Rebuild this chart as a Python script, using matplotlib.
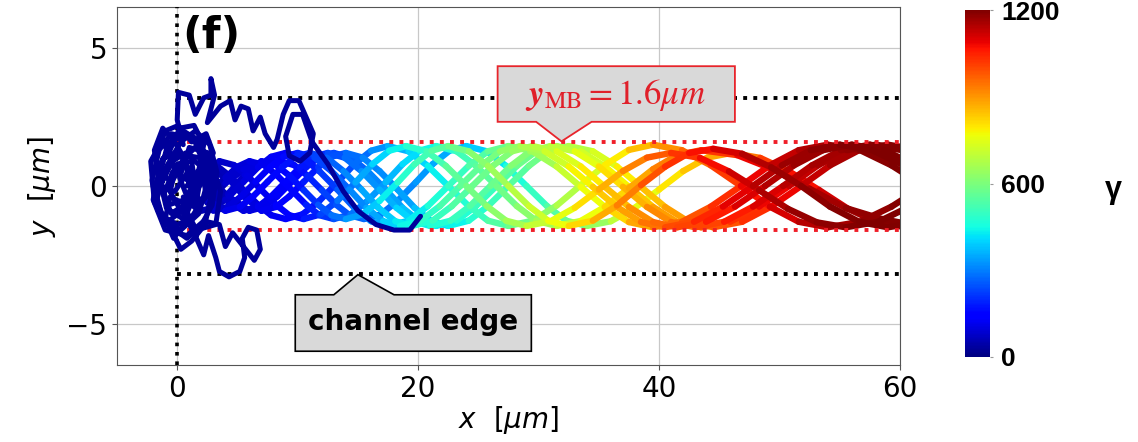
import numpy as np
import matplotlib
matplotlib.use("Agg")
import matplotlib.pyplot as plt
from matplotlib.collections import LineCollection
from matplotlib.patches import Polygon
from matplotlib.colors import Normalize
from matplotlib.cm import ScalarMappable

# electron trajectories: x [um], y [um] and gamma along each path
traj_x = [
    [2.0, 3.2, 4.3, 5.5, 6.7, 7.8, 9.0, 10.4, 11.8, 13.3, 14.7, 16.1, 17.5, 19.2, 20.8, 22.5, 24.2, 25.8, 27.5, 29.5, 31.5, 33.5, 35.5, 37.5, 39.5, 41.9, 44.3, 46.8, 49.2, 51.6, 54.0, 56.7, 59.3, 62.0, 64.7],
    [2.5, 4.0, 5.2, 6.3, 7.5, 8.7, 9.8, 11.0, 12.4, 13.8, 15.3, 16.7, 18.1, 19.5, 21.2, 22.8, 24.5, 26.2, 27.8, 29.5, 31.5, 33.5, 35.5, 37.5, 39.5, 41.5, 43.9, 46.3, 48.8, 51.2, 53.6, 56.0, 58.7, 61.3, 64.0],
    [2.5, 4.0, 5.5, 6.7, 7.8, 9.0, 10.2, 11.3, 12.5, 13.9, 15.3, 16.8, 18.2, 19.6, 21.0, 22.7, 24.3, 26.0, 27.7, 29.3, 31.0, 33.0, 35.0, 37.0, 39.0, 41.0, 43.0, 45.4, 47.8, 50.3, 52.7, 55.1, 57.5, 60.2, 62.8],
    [2.5, 4.2, 5.6, 7.0, 8.2, 9.3, 10.5, 11.7, 12.8, 14.0, 15.4, 16.8, 18.3, 19.7, 21.1, 22.5, 24.2, 25.8, 27.5, 29.2, 30.8, 32.5, 34.5, 36.5, 38.5, 40.5, 42.5, 44.5, 46.9, 49.3, 51.8, 54.2, 56.6, 59.0, 61.7],
    [3.0, 4.2, 5.3, 6.5, 7.7, 8.8, 10.0, 11.4, 12.8, 14.3, 15.7, 17.1, 18.5, 20.2, 21.8, 23.5, 25.2, 26.8, 28.5, 30.5, 32.5, 34.5, 36.5, 38.5, 40.5, 42.9, 45.3, 47.8, 50.2, 52.6, 55.0, 57.7, 60.3, 63.0, 65.7],
    [2.5, 4.3, 6.0, 7.2, 8.3, 9.5, 10.7, 11.8, 13.0, 14.4, 15.8, 17.3, 18.7, 20.1, 21.5, 23.2, 24.8, 26.5, 28.2, 29.8, 31.5, 33.5, 35.5, 37.5, 39.5, 41.5, 43.5, 45.9, 48.3, 50.8, 53.2, 55.6, 58.0, 60.7, 63.3],
    [2.0, 3.2, 4.3, 5.5, 6.7, 7.8, 9.0, 10.4, 11.8, 13.3, 14.7, 16.1, 17.5, 19.2, 20.8, 22.5, 24.2, 25.8, 27.5, 29.5, 31.5, 33.5, 35.5, 37.5, 39.5, 41.9, 44.3, 46.8, 49.2, 51.6, 54.0, 56.7, 59.3, 62.0, 64.7],
    [2.5, 3.5, 4.7, 5.8, 7.0, 8.2, 9.3, 10.5, 11.9, 13.3, 14.8, 16.2, 17.6, 19.0, 20.7, 22.3, 24.0, 25.7, 27.3, 29.0, 31.0, 33.0, 35.0, 37.0, 39.0, 41.0, 43.4, 45.8, 48.3, 50.7, 53.1, 55.5, 58.2, 60.8, 63.5],
    [2.5, 4.0, 5.0, 6.0, 7.2, 8.3, 9.5, 10.7, 11.8, 13.0, 14.4, 15.8, 17.3, 18.7, 20.1, 21.5, 23.2, 24.8, 26.5, 28.2, 29.8, 31.5, 33.5, 35.5, 37.5, 39.5, 41.5, 43.5, 46.5, 49.5, 52.5, 55.5, 58.5, 61.5, 64.0],
    [2.5, 4.0, 5.5, 7.0, 8.5, 9.7, 10.8, 12.0, 13.2, 14.3, 15.5, 16.9, 18.3, 19.8, 21.2, 22.6, 24.0, 25.7, 27.3, 29.0, 30.7, 32.3, 34.0, 36.0, 38.0, 40.0, 42.0, 44.0, 46.0, 48.4, 50.8, 53.3, 55.7, 58.1, 60.5],
    [2.5, 4.2, 5.6, 7.0, 8.2, 9.3, 10.5, 11.7, 12.8, 14.0, 15.4, 16.8, 18.3, 19.7, 21.1, 22.5, 24.2, 25.8, 27.5, 29.2, 30.8, 32.5, 34.5, 36.5, 38.5, 40.5, 42.5, 44.5, 46.9, 49.3, 51.8, 54.2, 56.6, 59.0, 61.7],
]
traj_y = [
    [-0.9, -0.76, -0.38, 0.15, 0.68, 1.06, 1.2, 1.03, 0.54, -0.13, -0.79, -1.28, -1.45, -1.26, -0.73, 0, 0.73, 1.26, 1.45, 1.26, 0.71, -0.03, -0.76, -1.31, -1.5, -1.3, -0.75, 0, 0.75, 1.3, 1.5, 1.3, 0.75, 0, -0.75],
    [-0.5, -0.9, -0.76, -0.38, 0.15, 0.68, 1.06, 1.2, 1.03, 0.54, -0.13, -0.79, -1.28, -1.45, -1.26, -0.73, 0, 0.73, 1.26, 1.45, 1.26, 0.71, -0.03, -0.76, -1.31, -1.5, -1.3, -0.75, 0, 0.75, 1.3, 1.5, 1.3, 0.75, 0],
    [0.2, -0.5, -0.9, -0.76, -0.38, 0.15, 0.68, 1.06, 1.2, 1.03, 0.54, -0.13, -0.79, -1.28, -1.45, -1.26, -0.73, 0, 0.73, 1.26, 1.45, 1.26, 0.71, -0.03, -0.76, -1.31, -1.5, -1.3, -0.75, 0, 0.75, 1.3, 1.5, 1.3, 0.75],
    [0.6, 0.3, -0.4, -0.9, -0.76, -0.38, 0.15, 0.68, 1.06, 1.2, 1.03, 0.54, -0.13, -0.79, -1.28, -1.45, -1.26, -0.73, 0, 0.73, 1.26, 1.45, 1.26, 0.71, -0.03, -0.76, -1.31, -1.5, -1.3, -0.75, 0, 0.75, 1.3, 1.5, 1.3],
    [-0.9, -0.76, -0.38, 0.15, 0.68, 1.06, 1.2, 1.03, 0.54, -0.13, -0.79, -1.28, -1.45, -1.26, -0.73, 0, 0.73, 1.26, 1.45, 1.26, 0.71, -0.03, -0.76, -1.31, -1.5, -1.3, -0.75, 0, 0.75, 1.3, 1.5, 1.3, 0.75, 0, -0.75],
    [0.3, -0.4, -0.9, -0.76, -0.38, 0.15, 0.68, 1.06, 1.2, 1.03, 0.54, -0.13, -0.79, -1.28, -1.45, -1.26, -0.73, 0, 0.73, 1.26, 1.45, 1.26, 0.71, -0.03, -0.76, -1.31, -1.5, -1.3, -0.75, 0, 0.75, 1.3, 1.5, 1.3, 0.75],
    [0.9, 0.76, 0.38, -0.15, -0.68, -1.06, -1.2, -1.03, -0.54, 0.13, 0.79, 1.28, 1.45, 1.26, 0.73, 0, -0.73, -1.26, -1.45, -1.26, -0.71, 0.03, 0.76, 1.31, 1.5, 1.3, 0.75, 0, -0.75, -1.3, -1.5, -1.3, -0.75, 0, 0.75],
    [0.4, 0.9, 0.76, 0.38, -0.15, -0.68, -1.06, -1.2, -1.03, -0.54, 0.13, 0.79, 1.28, 1.45, 1.26, 0.73, 0, -0.73, -1.26, -1.45, -1.28, -0.79, -0.13, 0.54, 1.03, 1.2, 1.02, 0.53, -0.15, -0.83, -1.32, -1.5, -1.3, -0.75, 0],
    [-0.3, 0.3, 0.7, 0.9, 0.76, 0.38, -0.15, -0.68, -1.06, -1.2, -1.03, -0.54, 0.13, 0.79, 1.28, 1.45, 1.26, 0.73, 0, -0.73, -1.26, -1.45, -1.27, -0.76, -0.08, 0.61, 1.12, 1.3, 1.12, 0.6, -0.1, -0.8, -1.2, -1.45, -1.3],
    [-0.6, 0.1, 0.6, 0.85, 0.9, 0.76, 0.38, -0.15, -0.68, -1.06, -1.2, -1.03, -0.54, 0.13, 0.79, 1.28, 1.45, 1.26, 0.73, 0, -0.73, -1.26, -1.45, -1.28, -0.79, -0.13, 0.54, 1.03, 1.2, 1.02, 0.53, -0.15, -0.83, -1.32, -1.5],
    [-0.6, -0.3, 0.4, 0.9, 0.76, 0.38, -0.15, -0.68, -1.06, -1.2, -1.03, -0.54, 0.13, 0.79, 1.28, 1.45, 1.26, 0.73, 0, -0.73, -1.26, -1.45, -1.26, -0.71, 0.03, 0.7, 1.2, 1.35, 1.17, 0.68, 0, -0.75, -1.3, -1.5, -1.3],
]
traj_gamma = [
    [50, 60, 80, 90, 110, 120, 140, 160, 200, 240, 280, 320, 360, 410, 450, 480, 520, 550, 590, 630, 680, 740, 790, 850, 910, 960, 1010, 1060, 1110, 1140, 1160, 1180, 1195, 1200, 1200],
    [60, 100, 120, 130, 150, 160, 180, 210, 250, 290, 330, 370, 410, 450, 490, 520, 560, 590, 620, 660, 710, 770, 820, 880, 940, 980, 1030, 1080, 1130, 1160, 1180, 1190, 1200, 1200, 1200],
    [50, 70, 90, 110, 120, 140, 160, 190, 220, 260, 300, 340, 380, 420, 450, 490, 520, 560, 590, 630, 670, 720, 780, 840, 890, 940, 980, 1030, 1080, 1130, 1150, 1170, 1180, 1200, 1200],
    [50, 70, 90, 110, 130, 140, 160, 200, 230, 260, 300, 310, 320, 360, 390, 420, 460, 490, 530, 560, 600, 650, 710, 760, 820, 870, 910, 950, 1010, 1060, 1110, 1140, 1170, 1190, 1200],
    [70, 90, 100, 120, 140, 150, 170, 210, 250, 290, 330, 370, 420, 470, 510, 540, 580, 610, 650, 690, 750, 810, 860, 920, 970, 1020, 1070, 1120, 1160, 1180, 1190, 1200, 1200, 1200, 1200],
    [50, 70, 90, 110, 120, 140, 160, 190, 220, 250, 290, 320, 360, 390, 420, 450, 490, 520, 560, 600, 640, 700, 750, 810, 870, 910, 950, 1000, 1060, 1110, 1140, 1170, 1190, 1200, 1200],
    [40, 60, 70, 90, 100, 120, 130, 150, 180, 220, 260, 300, 340, 380, 420, 450, 490, 520, 560, 600, 650, 700, 760, 820, 880, 930, 990, 1040, 1090, 1130, 1150, 1170, 1190, 1200, 1200],
    [50, 70, 80, 100, 110, 130, 140, 160, 200, 260, 320, 380, 420, 460, 500, 540, 570, 610, 640, 680, 730, 780, 840, 900, 950, 1000, 1050, 1100, 1140, 1165, 1180, 1190, 1200, 1200, 1200],
    [50, 70, 90, 100, 110, 130, 140, 170, 200, 230, 270, 310, 350, 390, 430, 460, 500, 530, 570, 600, 640, 680, 740, 790, 850, 910, 950, 990, 1060, 1110, 1150, 1170, 1190, 1200, 1200],
    [50, 70, 90, 110, 130, 150, 170, 210, 240, 260, 270, 280, 300, 320, 340, 360, 370, 410, 440, 480, 520, 560, 610, 670, 720, 780, 820, 860, 900, 980, 1050, 1090, 1140, 1180, 1200],
    [50, 70, 90, 110, 130, 150, 180, 230, 270, 310, 360, 410, 460, 500, 530, 560, 600, 630, 670, 700, 740, 790, 850, 900, 960, 1010, 1050, 1090, 1130, 1160, 1180, 1190, 1200, 1200, 1200],
]

# tangled low-energy paths near the injection point
mess_x = [
    [1.5, 0.2, -1.2, -1.8, -1.2, 0.3, 1.8, 2.6, 2.0, 0.5, -0.8, -1.5, -0.9, 0.5, 1.6, 1.2, 0.0, -0.6, 0.3, 1.4, 2.2, 1.3, -0.2, -1.4, -2.0, -1.0, 0.8, 2.4, 3.0, 2.6, 1.0, 0.2, 1.0, 2.0],
    [0.5, 0.0, 0.1, 1.0, 1.5, 2.2, 2.8, 2.8, 3.1, 2.5, 3.6, 4.4, 4.8, 5.3, 5.9, 6.3, 6.9, 7.3, 8.0, 8.3, 8.8, 9.3, 10.1, 10.7, 11.3, 11.0, 10.2, 9.3, 9.0, 9.6, 10.4, 11.2, 12.5, 13.8, 15.0, 16.5, 18.0, 19.3, 20.2],
    [0.5, 1.5, 2.2, 2.6, 3.2, 3.5, 4.3, 5.2, 5.6, 5.4, 5.9, 6.6, 6.9, 6.4, 5.5, 4.6, 4.0, 3.5, 2.5, 1.2, 0.3, -0.5],
    [0.8, 1.8, 2.2, 1.4, 0.2, -0.6, -0.2, 0.9, 2.0, 2.8, 2.2, 0.9, -0.4, -1.6, -1.9, -1.2, -0.2, 0.6, 1.2, 0.7, -0.3, -1.0, -0.6, 0.4, 1.6, 3.2, 3.6, 2.8],
    [0.5, -0.5, -1.5, -2.1, -1.6, -0.5, 0.8, 1.9, 2.9, 3.3, 2.7, 1.5, 0.3, -0.9, -1.7, -1.2, 0.0, 1.1, 2.4, 2.0, 0.7, -0.4, -1.3, -0.8, 0.6, 1.8, 2.5, 1.7, 0.4],
    [-0.3, -1.3, -2.2, -1.9, -0.8, 0.4, 1.3, 0.6, -0.4, -1.1, -0.5, 0.9, 2.1, 3.0, 2.4, 1.2, 0.1, -1.0, -1.8, -1.4, -0.2, 1.0, 1.9, 1.5, 0.5],
]
mess_y = [
    [0.2, 1.2, 1.0, -0.2, -1.2, -1.6, -1.0, 0.3, 1.6, 2.0, 1.5, 0.3, -0.8, -1.2, -0.3, 0.9, 0.8, -0.2, -0.9, -0.6, 0.8, 1.8, 1.7, 0.8, -0.5, -1.6, -1.8, -1.2, 0.0, 1.2, 1.4, 0.3, -0.6, 0.1],
    [1.5, 2.4, 3.4, 3.3, 2.6, 3.2, 3.3, 3.9, 3.3, 2.3, 2.9, 3.1, 2.4, 2.9, 2.8, 2.0, 2.5, 1.9, 1.4, 1.7, 2.6, 3.1, 3.1, 2.5, 1.9, 1.2, 0.9, 1.1, 1.8, 2.6, 2.6, 1.6, 0.8, -0.2, -0.9, -1.4, -1.6, -1.6, -1.1],
    [-1.0, -1.8, -2.5, -1.8, -2.6, -3.1, -3.3, -3.1, -2.6, -1.9, -1.5, -1.6, -2.3, -2.7, -2.2, -1.7, -2.2, -1.4, -1.3, -2.0, -2.3, -1.6],
    [0.0, 0.6, 1.5, 2.2, 2.1, 1.3, 0.5, 0.2, -0.6, -0.2, 1.0, 1.1, 0.2, 0.4, 1.3, 2.1, 1.6, 1.0, -0.2, -1.3, -1.9, -1.2, -0.4, -0.6, -1.6, -1.4, -0.2, 0.9],
    [1.8, 1.9, 1.3, 0.2, -0.9, -1.5, -1.9, -1.5, -0.7, 0.5, 1.5, 2.0, 1.6, 0.7, -0.5, -1.1, -1.4, -1.2, -0.3, 0.7, 1.2, 0.9, 0.1, -0.7, -0.5, 0.4, 1.1, 1.5, 0.9],
    [1.0, 1.6, 0.9, -0.6, -1.3, -0.9, 0.0, 0.9, 0.5, -0.3, -1.0, -0.6, 0.4, 1.2, 1.9, 1.6, 2.2, 2.0, 1.0, 0.0, -0.2, 0.6, 0.2, -0.8, -0.4],
]
mess_gamma = 30

y_mb = 1.6        # matched beam radius
y_edge = 3.2      # channel edge
gamma_ticks = [0, 600, 1200]

fig = plt.figure(figsize=(11.38, 4.42), dpi=100)
ax = fig.add_axes([0.1028, 0.1742, 0.688, 0.81])
norm = Normalize(0, 1200)
cmap = plt.get_cmap("jet")

# coloured trajectories, segments sorted so the high-gamma ones sit on top
segs, vals = [], []
for xs, ys, gs in zip(traj_x, traj_y, traj_gamma):
    n = min(len(xs), len(ys), len(gs))
    for i in range(n - 1):
        segs.append([(xs[i], ys[i]), (xs[i + 1], ys[i + 1])])
        vals.append(0.5 * (gs[i] + gs[i + 1]))
order = np.argsort(vals, kind="stable")
lc = LineCollection([segs[i] for i in order], cmap=cmap, norm=norm,
                    linewidths=4.6, capstyle="round", joinstyle="round", zorder=3)
lc.set_array(np.asarray(vals)[order])
ax.add_collection(lc)

for xs, ys in zip(mess_x, mess_y):
    ax.plot(xs, ys, color=cmap(norm(mess_gamma)), lw=3.6,
            solid_joinstyle="round", solid_capstyle="round", zorder=4)

# guide lines
dots = (0, (1, 1.6))
for yv in (y_edge, -y_edge):
    ax.plot([0, 60], [yv, yv], color="black", ls=dots, lw=2.8, zorder=3.5)
for yv in (y_mb, -y_mb):
    ax.plot([0, 60], [yv, yv], color="#f01e28", ls=dots, lw=2.8, zorder=3.5)
ax.axvline(0, color="black", ls=dots, lw=2.6, zorder=3.5)

# callouts
box_mb = [(26.6, 2.33), (29.8, 2.33), (31.9, 1.62), (34.4, 2.33),
          (46.3, 2.33), (46.3, 4.35), (26.6, 4.35)]
ax.add_patch(Polygon(box_mb, closed=True, fc="#d9d9d9", ec="#e8242b", lw=1.3, zorder=6))
ax.text(36.4, 3.3, r"$\mathbfit{y}_{\mathrm{MB}} = 1.6\mu m$", color="#e0202a",
        fontsize=25, ha="center", va="center", math_fontfamily="stix", zorder=7)

box_edge = [(9.8, -3.95), (13.0, -3.95), (15.0, -3.22), (18.0, -3.95),
            (29.4, -3.95), (29.4, -6.0), (9.8, -6.0)]
ax.add_patch(Polygon(box_edge, closed=True, fc="#d9d9d9", ec="black", lw=1.2, zorder=6))
ax.text(19.6, -4.95, "channel edge", fontsize=20, fontweight="bold",
        ha="center", va="center", zorder=7)

ax.text(0.4, 6.2, "(f)", fontsize=31, fontweight="bold", ha="left", va="top", zorder=7)

ax.set_xlim(-5, 60)
ax.set_ylim(-6.5, 6.5)
ax.set_xticks([0, 20, 40, 60])
ax.set_yticks([-5, 0, 5])
ax.grid(True, color="#c8c8c8", lw=0.9)
ax.set_axisbelow(True)
ax.tick_params(labelsize=20, color="#555555")
for sp in ax.spines.values():
    sp.set_color("#555555")
ax.set_xlabel(r"$x\ \ [\mu m]$", fontsize=20, labelpad=1)
ax.set_ylabel(r"$y\ \ [\mu m]$", fontsize=20, labelpad=6)

# colour bar
cax = fig.add_axes([965 / 1138, 85 / 442, 25 / 1138, 347 / 442])
cb = fig.colorbar(ScalarMappable(norm=norm, cmap=cmap), cax=cax, ticks=gamma_ticks)
cb.outline.set_visible(False)
cax.tick_params(length=2, width=0.8, pad=6, color="#999999")
cax.set_yticklabels([str(t) for t in gamma_ticks], fontsize=19,
                    fontweight="bold", family="Liberation Sans")
fig.text(1113 / 1138, 0.57, "γ", fontsize=22, fontweight="bold",
         family="Liberation Sans", ha="center", va="center")

fig.savefig("out.png", dpi=100)
